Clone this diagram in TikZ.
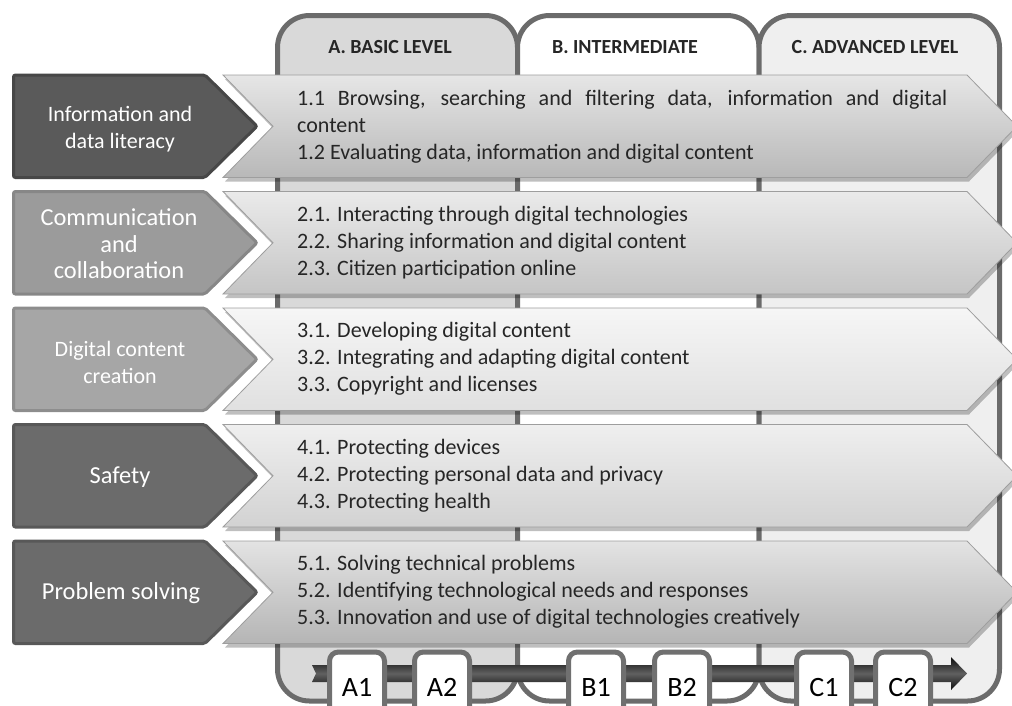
\documentclass[tikz,border=0pt]{standalone}
\usepackage{fontspec}
\setmainfont{Carlito}
\definecolor{colborder}{HTML}{6B6B6B}
\definecolor{colA}{HTML}{D9D9D9}
\definecolor{colC}{HTML}{EFEFEF}
\definecolor{hdrtext}{HTML}{262626}
\definecolor{bandtext}{HTML}{262626}
\definecolor{bandline}{HTML}{9E9E9E}
\definecolor{lvlborder}{HTML}{707070}
\definecolor{catA}{HTML}{5A5A5A}\definecolor{catAd}{HTML}{474747}
\definecolor{catB}{HTML}{9B9B9B}\definecolor{catBd}{HTML}{878787}
\definecolor{catC}{HTML}{A6A6A6}\definecolor{catCd}{HTML}{8D8D8D}
\definecolor{catD}{HTML}{6B6B6B}\definecolor{catDd}{HTML}{585858}
\definecolor{bAt}{HTML}{E6E6E6}\definecolor{bAb}{HTML}{B8B8B8}
\definecolor{bBt}{HTML}{EAEAEA}\definecolor{bBb}{HTML}{C5C5C5}
\definecolor{bCt}{HTML}{F6F6F6}\definecolor{bCb}{HTML}{E0E0E0}
\definecolor{bDt}{HTML}{EFEFEF}\definecolor{bDb}{HTML}{D2D2D2}
\definecolor{bEt}{HTML}{E3E3E3}\definecolor{bEb}{HTML}{B5B5B5}
\begin{document}
\begin{tikzpicture}[x=1pt,y=-1pt,
  colbox/.style={draw=colborder, line width=5pt, rounded corners=32pt},
  hdr/.style={font=\fontsize{20}{22}\selectfont\bfseries, text=hdrtext, inner sep=0pt},
  cattext/.style={text=white, align=center, inner sep=0pt},
  bandtxt/.style={font=\fontsize{22}{27}\selectfont, text=bandtext, align=left, anchor=west, inner sep=0pt},
  catshape/.style={line width=3pt, rounded corners=2pt},
  bandshape/.style={draw=bandline, line width=0.8pt},
  bandshadow/.style={fill=black, opacity=0.25},
  lvlbox/.style={draw=lvlborder, fill=white, line width=5pt, rounded corners=9pt,
     minimum width=55pt, minimum height=70pt, anchor=north, inner sep=0pt,
     font=\fontsize{28}{30}\selectfont, text=black}
]
\useasboundingbox (0,0) rectangle (1012,705);
% columns
\path[colbox, fill=colA] (277.5,15.5) rectangle (517.5,701);
\path[colbox, fill=white] (517.5,15.5) rectangle (759,701);
\path[colbox, fill=colC] (759,15.5) rectangle (999.5,701);
% headers
\node[hdr] (hA) at (390,47) {A. BASIC LEVEL};
\node[hdr] (hB) at (625,47) {B. INTERMEDIATE};
\node[hdr] (hC) at (875,47) {C. ADVANCED LEVEL};
% rows
\foreach \t/\cf/\cd/\bt/\bb in {75/catA/catAd/bAt/bAb, 191.5/catB/catBd/bBt/bBb,
   308/catC/catCd/bCt/bCb, 424.5/catD/catDd/bDt/bDb, 541/catD/catDd/bEt/bEb}{
  \pgfmathsetmacro{\b}{\t+102.5}
  \pgfmathsetmacro{\c}{\t+51.25}
  % category chevron
  \draw[catshape, fill=\cf, draw=\cd] (13.5,\t) -- (205,\t) -- (257,\c) -- (205,\b) -- (13.5,\b) -- cycle;
  % band shadow
  \fill[bandshadow] (225,\t+4) -- (969,\t+4) -- (1019,\c+4) -- (969,\b+4) -- (225,\b+4) -- (275,\c+4) -- cycle;
  % band
  \path[bandshape, top color=\bt, bottom color=\bb] (223,\t) -- (967,\t) -- (1017,\c) -- (967,\b) -- (223,\b) -- (273,\c) -- cycle;
}
% category texts
\node[cattext, font=\fontsize{22}{27}\selectfont] (cat1) at (120,129) {Information and\\data literacy};
\node[cattext, font=\fontsize{24.4}{26.5}\selectfont] (cat2) at (119,244) {Communication\\and\\collaboration};
\node[cattext, font=\fontsize{22}{27}\selectfont] (cat3) at (120,362) {Digital content\\creation};
\node[cattext, font=\fontsize{24.4}{27}\selectfont] (cat4) at (120,477) {Safety};
\node[cattext, font=\fontsize{24.4}{27}\selectfont] (cat5) at (121,593) {Problem solving};
% band texts
\node[bandtxt] (t1) at (297,127) {\makebox[650pt][s]{1.1 Browsing, searching and filtering data, information and digital}\\content\\1.2 Evaluating data, information and digital content};
\node[bandtxt] (t2) at (297,243) {2.1. Interacting through digital technologies\\2.2. Sharing information and digital content\\2.3. Citizen participation online};
\node[bandtxt] (t3) at (297,359) {3.1. Developing digital content\\3.2. Integrating and adapting digital content\\3.3. Copyright and licenses};
\node[bandtxt] (t4) at (297,476) {4.1. Protecting devices\\4.2. Protecting personal data and privacy\\4.3. Protecting health};
\node[bandtxt] (t5) at (297,592) {5.1. Solving technical problems\\5.2. Identifying technological needs and responses\\5.3. Innovation and use of digital technologies creatively};
% progression arrow
\path[top color=black!95, bottom color=black!95, middle color=black!62]
  (312,665) -- (951,665) -- (951,657) -- (967,673.5) -- (951,690) -- (951,682) -- (312,682) -- (316,673.5) -- cycle;
% level boxes
\node[lvlbox] (A1) at (357,649.5) {A1};
\node[lvlbox] (A2) at (442,649.5) {A2};
\node[lvlbox] (B1) at (596,649.5) {B1};
\node[lvlbox] (B2) at (682,649.5) {B2};
\node[lvlbox] (C1) at (824,649.5) {C1};
\node[lvlbox] (C2) at (903,649.5) {C2};
\end{tikzpicture}
\end{document}
